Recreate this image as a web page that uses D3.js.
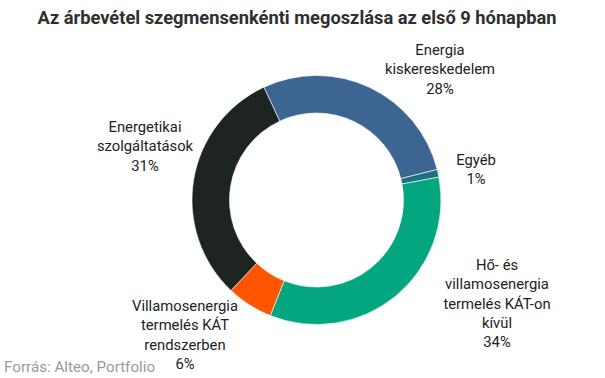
<!DOCTYPE html>
<html>
<head>
<meta charset="utf-8">
<script src="https://cdn.jsdelivr.net/npm/d3@7"></script>
<style>
  html, body { margin: 0; padding: 0; background: #fff; }
  #chart { width: 605px; height: 378px; }
  text { font-family: Roboto, "Noto Sans", sans-serif; }
</style>
</head>
<body>
<div id="chart"></div>
<script>
const segments = [
  ["Energia", "kiskereskedelem"],
  ["Egyéb"],
  ["Hő- és", "villamosenergia", "termelés KÁT-on", "kívül"],
  ["Villamosenergia", "termelés KÁT", "rendszerben"],
  ["Energetikai", "szolgáltatások"]
];
const shares = [28, 1, 34, 6, 31];
const colors = ["#3d6591", "#1d6f7e", "#03a67f", "#ff5500", "#1d2421"];

// where each label block is centred (first line y)
const labelPos = [
  [440, 50], [476, 160], [497, 265], [185, 306], [145, 127]
];

const w = 605, h = 378;
const cx = 316.5, cy = 200;
const outerR = 124.5, innerR = 87;
const startDeg = -25;

const svg = d3.select("#chart").append("svg")
  .attr("width", w).attr("height", h)
  .attr("viewBox", `0 0 ${w} ${h}`);

svg.append("text")
  .attr("x", 297).attr("y", 23.5)
  .attr("text-anchor", "middle")
  .attr("font-size", 18.5)
  .attr("font-weight", 700)
  .attr("fill", "#2f2f2f")
  .attr("textLength", 519)
  .attr("lengthAdjust", "spacingAndGlyphs")
  .text("Az árbevétel szegmensenkénti megoszlása az első 9 hónapban");

const pie = d3.pie().sort(null)
  .startAngle(startDeg * Math.PI / 180)
  .endAngle((startDeg + 360) * Math.PI / 180);

const arc = d3.arc().innerRadius(innerR).outerRadius(outerR);

const g = svg.append("g").attr("transform", `translate(${cx},${cy})`);

g.selectAll("path")
  .data(pie(shares))
  .join("path")
  .attr("d", arc)
  .attr("fill", (d, i) => colors[i])
  .attr("stroke", "#fff")
  .attr("stroke-width", 0.6);

const lineH = 19.2;
segments.forEach((lines, i) => {
  const [lx, ly] = labelPos[i];
  const t = svg.append("text")
    .attr("text-anchor", "middle")
    .attr("font-size", 14.8)
    .attr("fill", "#222");
  lines.concat([shares[i] + "%"]).forEach((s, j) => {
    t.append("tspan")
      .attr("x", lx)
      .attr("y", ly + j * lineH)
      .attr("dy", "0.35em")
      .text(s);
  });
});

svg.append("text")
  .attr("x", 4).attr("y", 371.5)
  .attr("font-size", 15.2)
  .attr("fill", "#9a9a9a")
  .text("Forrás: Alteo, Portfolio");
</script>
</body>
</html>
